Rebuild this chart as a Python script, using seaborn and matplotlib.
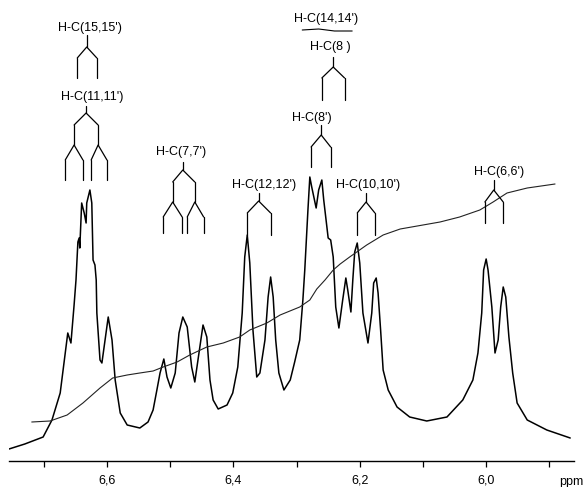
import matplotlib
import matplotlib.pyplot as plt
import numpy as np
import pandas as pd
import seaborn as sns
from matplotlib.ticker import FixedLocator, FuncFormatter

matplotlib.use("agg")

# 1H-NMR trace (ppm, signal height)
spec_ppm = [
    6.755, 6.730, 6.701, 6.687, 6.674, 6.666, 6.662, 6.657, 6.652, 6.649,
    6.646, 6.644, 6.643, 6.640, 6.636, 6.633, 6.632, 6.627, 6.624, 6.622,
    6.619, 6.617, 6.616, 6.611, 6.608, 6.603, 6.598, 6.592, 6.587, 6.579,
    6.568, 6.548, 6.535, 6.527, 6.521, 6.516, 6.510, 6.505, 6.499, 6.492,
    6.486, 6.480, 6.473, 6.466, 6.461, 6.456, 6.448, 6.442, 6.437, 6.432,
    6.424, 6.410, 6.401, 6.393, 6.386, 6.382, 6.378, 6.374, 6.369, 6.363,
    6.358, 6.350, 6.345, 6.341, 6.337, 6.333, 6.328, 6.320, 6.310, 6.303,
    6.295, 6.290, 6.287, 6.282, 6.279, 6.276, 6.269, 6.265, 6.260, 6.257,
    6.252, 6.250, 6.246, 6.242, 6.238, 6.233, 6.227, 6.222, 6.219, 6.214,
    6.211, 6.208, 6.204, 6.200, 6.195, 6.187, 6.181, 6.178, 6.174, 6.171,
    6.167, 6.163, 6.155, 6.141, 6.121, 6.094, 6.062, 6.037, 6.021, 6.013,
    6.007, 6.004, 6.000, 5.997, 5.991, 5.986, 5.981, 5.977, 5.973, 5.969,
    5.964, 5.958, 5.951, 5.935, 5.904, 5.867,
]
spec_int = [
    12, 17, 24, 41, 68, 108, 128, 118, 156, 181,
    219, 223, 213, 258, 248, 238, 258, 271, 258, 201,
    196, 181, 148, 101, 98, 121, 144, 121, 81, 48,
    36, 33, 39, 51, 71, 88, 102, 84, 73, 88,
    128, 144, 134, 94, 79, 101, 136, 124, 81, 61,
    52, 56, 68, 94, 148, 204, 226, 198, 131, 84,
    88, 121, 164, 184, 164, 121, 88, 71, 81, 99,
    121, 161, 191, 251, 284, 274, 253, 271, 281, 261,
    234, 223, 221, 204, 154, 133, 161, 183, 171, 149,
    181, 209, 218, 198, 148, 118, 148, 178, 183, 168,
    131, 91, 71, 54, 44, 40, 44, 61, 81, 108,
    148, 191, 202, 191, 154, 108, 121, 154, 174, 164,
    124, 88, 58, 41, 31, 23,
]

# integral curve
integ_ppm = [
    6.719, 6.690, 6.663, 6.638, 6.611, 6.591, 6.568, 6.548, 6.527, 6.511,
    6.489, 6.469, 6.442, 6.416, 6.390, 6.374, 6.347, 6.326, 6.295, 6.279,
    6.268, 6.255, 6.242, 6.231, 6.216, 6.189, 6.163, 6.136, 6.109, 6.073,
    6.042, 6.010, 5.989, 5.967, 5.935, 5.891,
]
integ_val = [
    39, 40, 46, 58, 73, 83, 86, 88, 90, 94,
    99, 106, 114, 118, 124, 131, 138, 146, 154, 161,
    172, 181, 191, 197, 204, 216, 226, 232, 235, 239,
    244, 251, 259, 268, 273, 277,
]

major_ticks = [6.6, 6.4, 6.2, 6.0]
minor_ticks = [6.7, 6.5, 6.3, 6.1, 5.9]

# splitting trees:
# label, label ppm, label height, stem ppm, stem top,
# levels of (leg ppm, node height, branch height, leg end height)
trees = [
    ("H-C(15,15')", 6.627, 433, 6.632, 426,
     [([6.647, 6.616], 414, 403, 383)]),
    ("H-C(11,11')", 6.624, 364, 6.633, 355,
     [([6.652, 6.614], 348, 336, 316),
      ([6.666, 6.638, 6.625, 6.600], 316, 301, 281)]),
    ("H-C(7,7')", 6.483, 309, 6.480, 299,
     [([6.496, 6.461], 291, 279, 259),
      ([6.511, 6.481, 6.473, 6.447], 259, 244, 228)]),
    ("H-C(12,12')", 6.352, 276, 6.360, 268,
     [([6.378, 6.341], 260, 248, 226)]),
    ("H-C(8 )", 6.247, 414, 6.242, 404,
     [([6.260, 6.224], 394, 383, 361)]),
    ("H-C(8')", 6.276, 343, 6.261, 336,
     [([6.277, 6.246], 326, 314, 294)]),
    ("H-C(10,10')", 6.187, 276, 6.190, 268,
     [([6.204, 6.176], 259, 248, 226)]),
    ("H-C(6,6')", 5.980, 289, 5.988, 281,
     [([6.002, 5.973], 271, 259, 238)]),
]

sns.set_style("white")
plt.rcParams["font.family"] = ["Liberation Sans", "DejaVu Sans"]
plt.rcParams["text.color"] = "black"

fig = plt.figure(figsize=(5.88, 4.87), dpi=100)
ax = fig.add_axes([9 / 588, 26 / 487, 565 / 588, 461 / 487])

spec = pd.DataFrame({"ppm": spec_ppm, "h": spec_int})
integ = pd.DataFrame({"ppm": integ_ppm, "h": integ_val})
sns.lineplot(data=spec, x="ppm", y="h", sort=False, estimator=None,
             color="black", linewidth=1.1, ax=ax)
sns.lineplot(data=integ, x="ppm", y="h", sort=False, estimator=None,
             color="#222222", linewidth=0.8, ax=ax)

lk = dict(color="black", linewidth=0.9)
for label, lx, ly, sx, stop, levels in trees:
    ax.text(lx, ly, label, ha="center", va="center", fontsize=9)
    # stem above the first split
    ax.plot([sx, sx], [stop, levels[0][1]], **lk)
    nodes = [sx]
    for legs, node_h, branch, bottom in levels:
        for i, n in enumerate(nodes):
            a, b = legs[2 * i], legs[2 * i + 1]
            ax.plot([a, n, b], [branch, node_h, branch], **lk)
            ax.plot([a, a], [branch, bottom], **lk)
            ax.plot([b, b], [branch, bottom], **lk)
        nodes = legs

ax.text(6.254, 442, "H-C(14,14')", ha="center", va="center", fontsize=9)
ax.plot([6.291, 6.265, 6.240, 6.212], [431, 432, 430, 430], color="black", linewidth=0.8)

ax.set_xlim(6.755, 5.861)
ax.set_ylim(0, 461)
ax.set_xlabel("")
ax.set_ylabel("")
ax.set_yticks([])
for s in ["left", "top", "right"]:
    ax.spines[s].set_visible(False)
ax.spines["bottom"].set_linewidth(1.0)
ax.spines["bottom"].set_color("black")
ax.xaxis.set_major_locator(FixedLocator(major_ticks))
ax.xaxis.set_minor_locator(FixedLocator(minor_ticks))
ax.xaxis.set_major_formatter(FuncFormatter(lambda v, p: f"{v:.1f}".replace(".", ",")))
ax.tick_params(axis="x", which="both", direction="out", length=4.5, width=0.9,
               color="black", labelcolor="black", labelsize=9, pad=5, bottom=True)
ax.text(0.996, -0.046, "ppm", transform=ax.transAxes, ha="center", va="center",
        fontsize=9)

fig.savefig("out.png", dpi=100)
